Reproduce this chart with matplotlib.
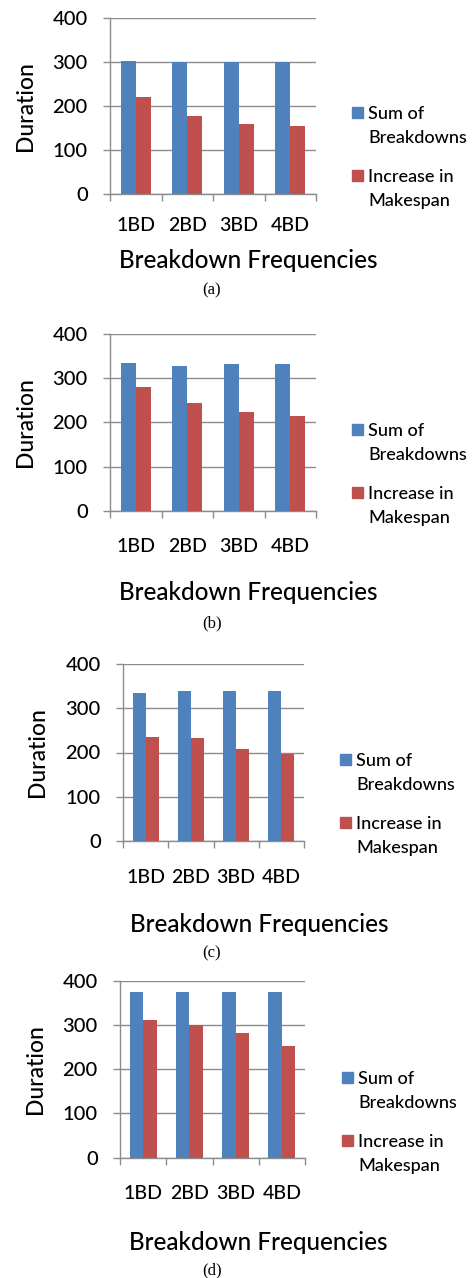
import numpy as np
import matplotlib.pyplot as plt
from matplotlib.patches import Rectangle

plt.rcParams['font.family'] = ['Lato', 'DejaVu Sans']
plt.rcParams['font.weight'] = 'medium'

categories = ['1BD', '2BD', '3BD', '4BD']
series_names = ['Sum of\nBreakdowns', 'Increase in\nMakespan']
captions = ['(a)', '(b)', '(c)', '(d)']

sum_a = [302, 300, 300, 300]
inc_a = [220, 178, 159, 155]
sum_b = [334, 328, 331, 331]
inc_b = [279, 243, 223, 214]
sum_c = [334, 339, 339, 339]
inc_c = [236, 232, 209, 196]
sum_d = [374, 374, 374, 374]
inc_d = [311, 300, 282, 252]

blue = '#4F81BD'
red = '#C0504D'
gray = '#8c8c8c'

W, H = 472, 1278
fig = plt.figure(figsize=(W / 100, H / 100), dpi=100)


def fx(px):
    return px / W


def fy(py):
    return 1 - py / H


def panel(sums, incs, cap, box, ylab_x, xlab_x, xlab_y, cap_y, tick_pad, leg_x, leg_y):
    left, top, right, bottom = box
    ax = fig.add_axes([fx(left), fy(bottom), (right - left) / W, (bottom - top) / H])
    x = np.arange(len(categories))
    w = 0.29
    ax.bar(x - w / 2, sums, w, color=blue, zorder=3)
    ax.bar(x + w / 2, incs, w, color=red, zorder=3)
    ax.set_xlim(-0.5, 3.5)
    ax.set_ylim(0, 400)
    ax.set_yticks([0, 100, 200, 300, 400])
    ax.set_xticks(x)
    ax.set_xticklabels(categories)
    ax.set_xticks(np.arange(5) - 0.5, minor=True)
    ax.tick_params(axis='x', which='major', length=0, pad=tick_pad, labelsize=14)
    ax.tick_params(axis='x', which='minor', length=5, color=gray, width=1)
    ax.tick_params(axis='y', length=5, color=gray, width=1, pad=11, labelsize=14.5)
    ax.grid(axis='y', color=gray, linewidth=1, zorder=0)
    for s in ['top', 'right']:
        ax.spines[s].set_visible(False)
    for s in ['left', 'bottom']:
        ax.spines[s].set_color(gray)
        ax.spines[s].set_linewidth(1)
    yc = (top + bottom) / 2
    fig.text(fx(ylab_x), fy(yc), 'Duration', rotation=90, ha='center', va='center', fontsize=16.5)
    fig.text(fx(xlab_x), fy(xlab_y), 'Breakdown Frequencies', ha='center', va='center', fontsize=17.5)
    fig.text(fx(212), fy(cap_y), cap, ha='center', va='center', fontsize=12, fontweight='normal',
             family=['Liberation Serif', 'DejaVu Serif'])
    # legend: square beside the first line of each two-line label
    for i, (name, col) in enumerate(zip(series_names, [blue, red])):
        y0 = leg_y + i * 63
        fig.patches.append(Rectangle((fx(leg_x), fy(y0 + 11)), 11 / W, 11 / H,
                                     color=col, transform=fig.transFigure, figure=fig))
        for j, line in enumerate(name.split('\n')):
            fig.text(fx(leg_x + 16), fy(y0 + 7 + j * 24), line, ha='left', va='center', fontsize=13)


panel(sum_a, inc_a, captions[0], (110, 17.7, 316, 194.3), 26, 248, 260, 290, 16, 352, 107)
panel(sum_b, inc_b, captions[1], (110, 334, 316, 510.7), 26, 248, 593, 623, 20, 352, 424)
panel(sum_c, inc_c, captions[2], (123, 664, 304, 841), 38, 259, 925, 953, 20, 340, 754)
panel(sum_d, inc_d, captions[3], (120, 980.7, 305, 1157.7), 36, 258, 1242, 1270, 20, 342, 1072)

fig.savefig('out.png', dpi=100)
